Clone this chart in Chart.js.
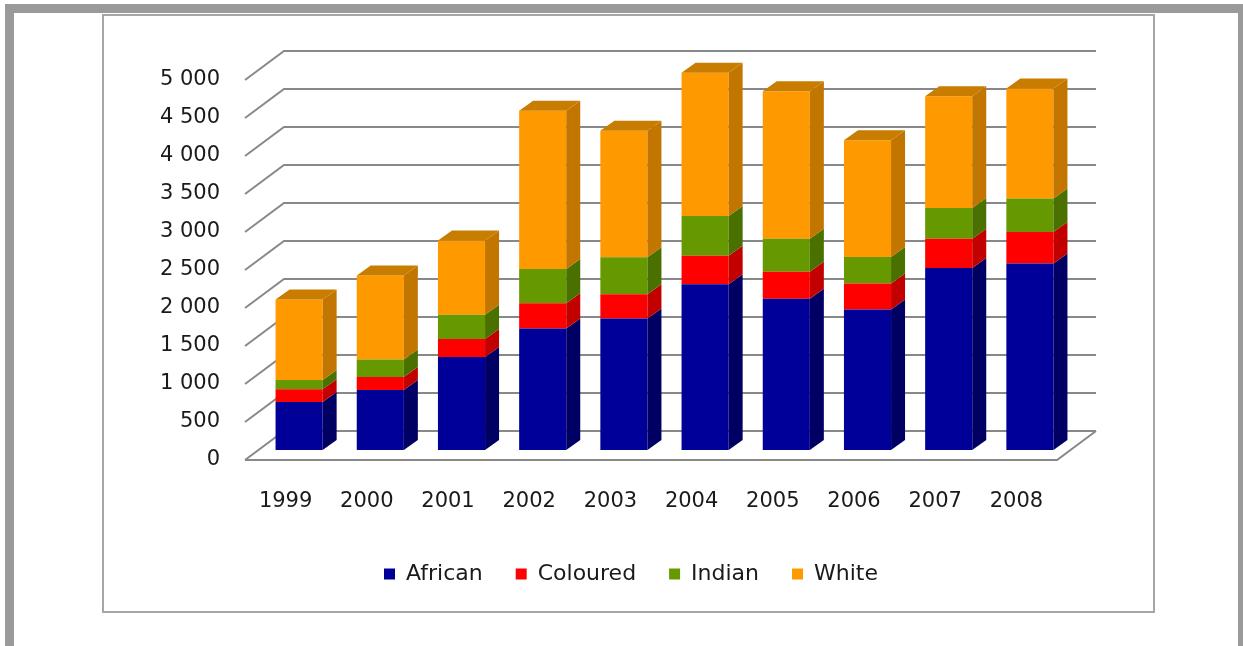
<!DOCTYPE html>
<html>
<head>
<meta charset="utf-8">
<script src="https://cdn.jsdelivr.net/npm/chart.js@4.4.0/dist/chart.umd.min.js"></script>
<style>
  body { margin: 0; background: #fff; width: 1243px; height: 646px; overflow: hidden; position: relative; }
  .frame-top { position: absolute; left: 5px; top: 4px; width: 1238px; height: 9px; background: #9a9a9a; }
  .frame-left { position: absolute; left: 5px; top: 4px; width: 9px; height: 642px; background: #9a9a9a; }
  .frame-right { position: absolute; left: 1238px; top: 4px; width: 5px; height: 642px; background: #9a9a9a; }
  .box { position: absolute; left: 102px; top: 14px; width: 1049px; height: 595px; border: 2px solid #a6a6a6; }
  #myChart { position: absolute; left: 0; top: 0; }
</style>
</head>
<body>
<div class="frame-top"></div>
<div class="frame-left"></div>
<div class="frame-right"></div>
<div class="box"></div>
<canvas id="myChart" width="1243" height="646"></canvas>

<script>
// data
let years = ['1999', '2000', '2001', '2002', '2003', '2004', '2005', '2006', '2007', '2008'];
let african = [630, 790, 1225, 1600, 1730, 2180, 1990, 1850, 2395, 2455];
let coloured = [170, 170, 235, 330, 320, 375, 355, 340, 385, 415];
let indian = [120, 230, 320, 450, 485, 525, 435, 350, 405, 440];
let white = [1060, 1105, 975, 2085, 1665, 1885, 1940, 1535, 1470, 1445];
let seriesNames = ['African', 'Coloured', 'Indian', 'White'];

// front / side / top colours for each series
let frontColors = ['#000099', '#ff0000', '#669900', '#ff9900'];
let sideColors = ['#000064', '#c20000', '#4a7000', '#c27600'];
let topColors = ['#000080', '#d00000', '#568000', '#c97d00'];

// 3d offsets (pixels)
const barShift = { dx: 13.5, dy: 10 };  // front plane -> bar plane
const barDepth = { dx: 14, dy: 10 };    // bar thickness
const backWall = { dx: 39, dy: 29 };    // front plane -> back wall

const fontFamily = '"DejaVu Sans", sans-serif';
const padBottom = 51;
const floorY = 460;
const legendLeft = 205;
const legendRight = 1057;

function formatTick(v) {
    if (v >= 1000) {
        return Math.floor(v / 1000) + ' ' + String(v % 1000).padStart(3, '0');
    }
    return String(v);
}

const threeD = {
    id: 'threeD',
    afterLayout(chart) {
        // center the legend under the plot like the original
        if (chart.legend) {
            chart.legend.left = legendLeft;
            chart.legend.right = legendRight;
        }
    },
    beforeDatasetsDraw(chart) {
        const ctx = chart.ctx;
        const a = chart.chartArea;
        const yScale = chart.scales.y;
        ctx.save();
        ctx.strokeStyle = '#888888';
        ctx.lineWidth = 2;
        // back wall grid + left wall diagonals
        yScale.ticks.forEach(t => {
            const py = yScale.getPixelForValue(t.value);
            ctx.beginPath();
            ctx.moveTo(a.left, py);
            ctx.lineTo(a.left + backWall.dx, py - backWall.dy);
            ctx.lineTo(a.right + backWall.dx, py - backWall.dy);
            ctx.stroke();
        });
        // floor front + right edge
        ctx.beginPath();
        ctx.moveTo(a.left, a.bottom);
        ctx.lineTo(a.right, a.bottom);
        ctx.lineTo(a.right + backWall.dx, a.bottom - backWall.dy);
        ctx.stroke();
        ctx.restore();

        ctx.save();
        ctx.translate(barShift.dx, -barShift.dy);
    },
    afterDatasetsDraw(chart) {
        const ctx = chart.ctx;
        const lastIndex = chart.data.datasets.length - 1;
        chart.data.datasets.forEach((ds, i) => {
            const meta = chart.getDatasetMeta(i);
            meta.data.forEach(bar => {
                const p = bar.getProps(['x', 'y', 'base', 'width'], true);
                const xl = p.x - p.width / 2;
                const xr = p.x + p.width / 2;
                // side face
                ctx.fillStyle = sideColors[i];
                ctx.beginPath();
                ctx.moveTo(xr, p.y);
                ctx.lineTo(xr + barDepth.dx, p.y - barDepth.dy);
                ctx.lineTo(xr + barDepth.dx, p.base - barDepth.dy);
                ctx.lineTo(xr, p.base);
                ctx.closePath();
                ctx.fill();
                // top face only on the top segment
                if (i === lastIndex) {
                    ctx.fillStyle = topColors[i];
                    ctx.beginPath();
                    ctx.moveTo(xl, p.y);
                    ctx.lineTo(xl + barDepth.dx, p.y - barDepth.dy);
                    ctx.lineTo(xr + barDepth.dx, p.y - barDepth.dy);
                    ctx.lineTo(xr, p.y);
                    ctx.closePath();
                    ctx.fill();
                }
            });
        });
        ctx.restore();
    }
};

let seriesData = [african, coloured, indian, white];

new Chart(document.getElementById('myChart'), {
    type: 'bar',
    data: {
        labels: years,
        datasets: seriesData.map((d, i) => ({
            label: seriesNames[i],
            data: d,
            backgroundColor: frontColors[i],
            borderWidth: 0,
            barPercentage: 0.58,
            categoryPercentage: 1.0,
            clip: false
        }))
    },
    options: {
        responsive: false,
        animation: false,
        devicePixelRatio: 1,
        layout: {
            padding: { left: 5, right: 186, top: 80, bottom: padBottom }
        },
        plugins: {
            tooltip: { enabled: false },
            legend: {
                position: 'bottom',
                labels: {
                    color: '#1a1a1a',
                    font: { family: fontFamily, size: 22 },
                    boxWidth: 11,
                    boxHeight: 11,
                    padding: 33
                }
            }
        },
        scales: {
            x: {
                stacked: true,
                grid: { display: false, drawTicks: false },
                border: { display: false },
                ticks: {
                    color: '#1a1a1a',
                    font: { family: fontFamily, size: 21 },
                    padding: 29,
                    maxRotation: 0
                },
                afterFit(scale) {
                    const legendH = scale.chart.legend ? scale.chart.legend.height : 0;
                    scale.height = scale.chart.height - floorY - legendH - padBottom;
                }
            },
            y: {
                stacked: true,
                min: 0,
                max: 5000,
                grid: { display: false, drawTicks: false },
                border: { display: false },
                ticks: {
                    stepSize: 500,
                    color: '#1a1a1a',
                    font: { family: fontFamily, size: 21 },
                    padding: 25,
                    callback: v => formatTick(v)
                },
                afterFit(scale) {
                    scale.width = 240;
                }
            }
        }
    },
    plugins: [threeD]
});
</script>
</body>
</html>
